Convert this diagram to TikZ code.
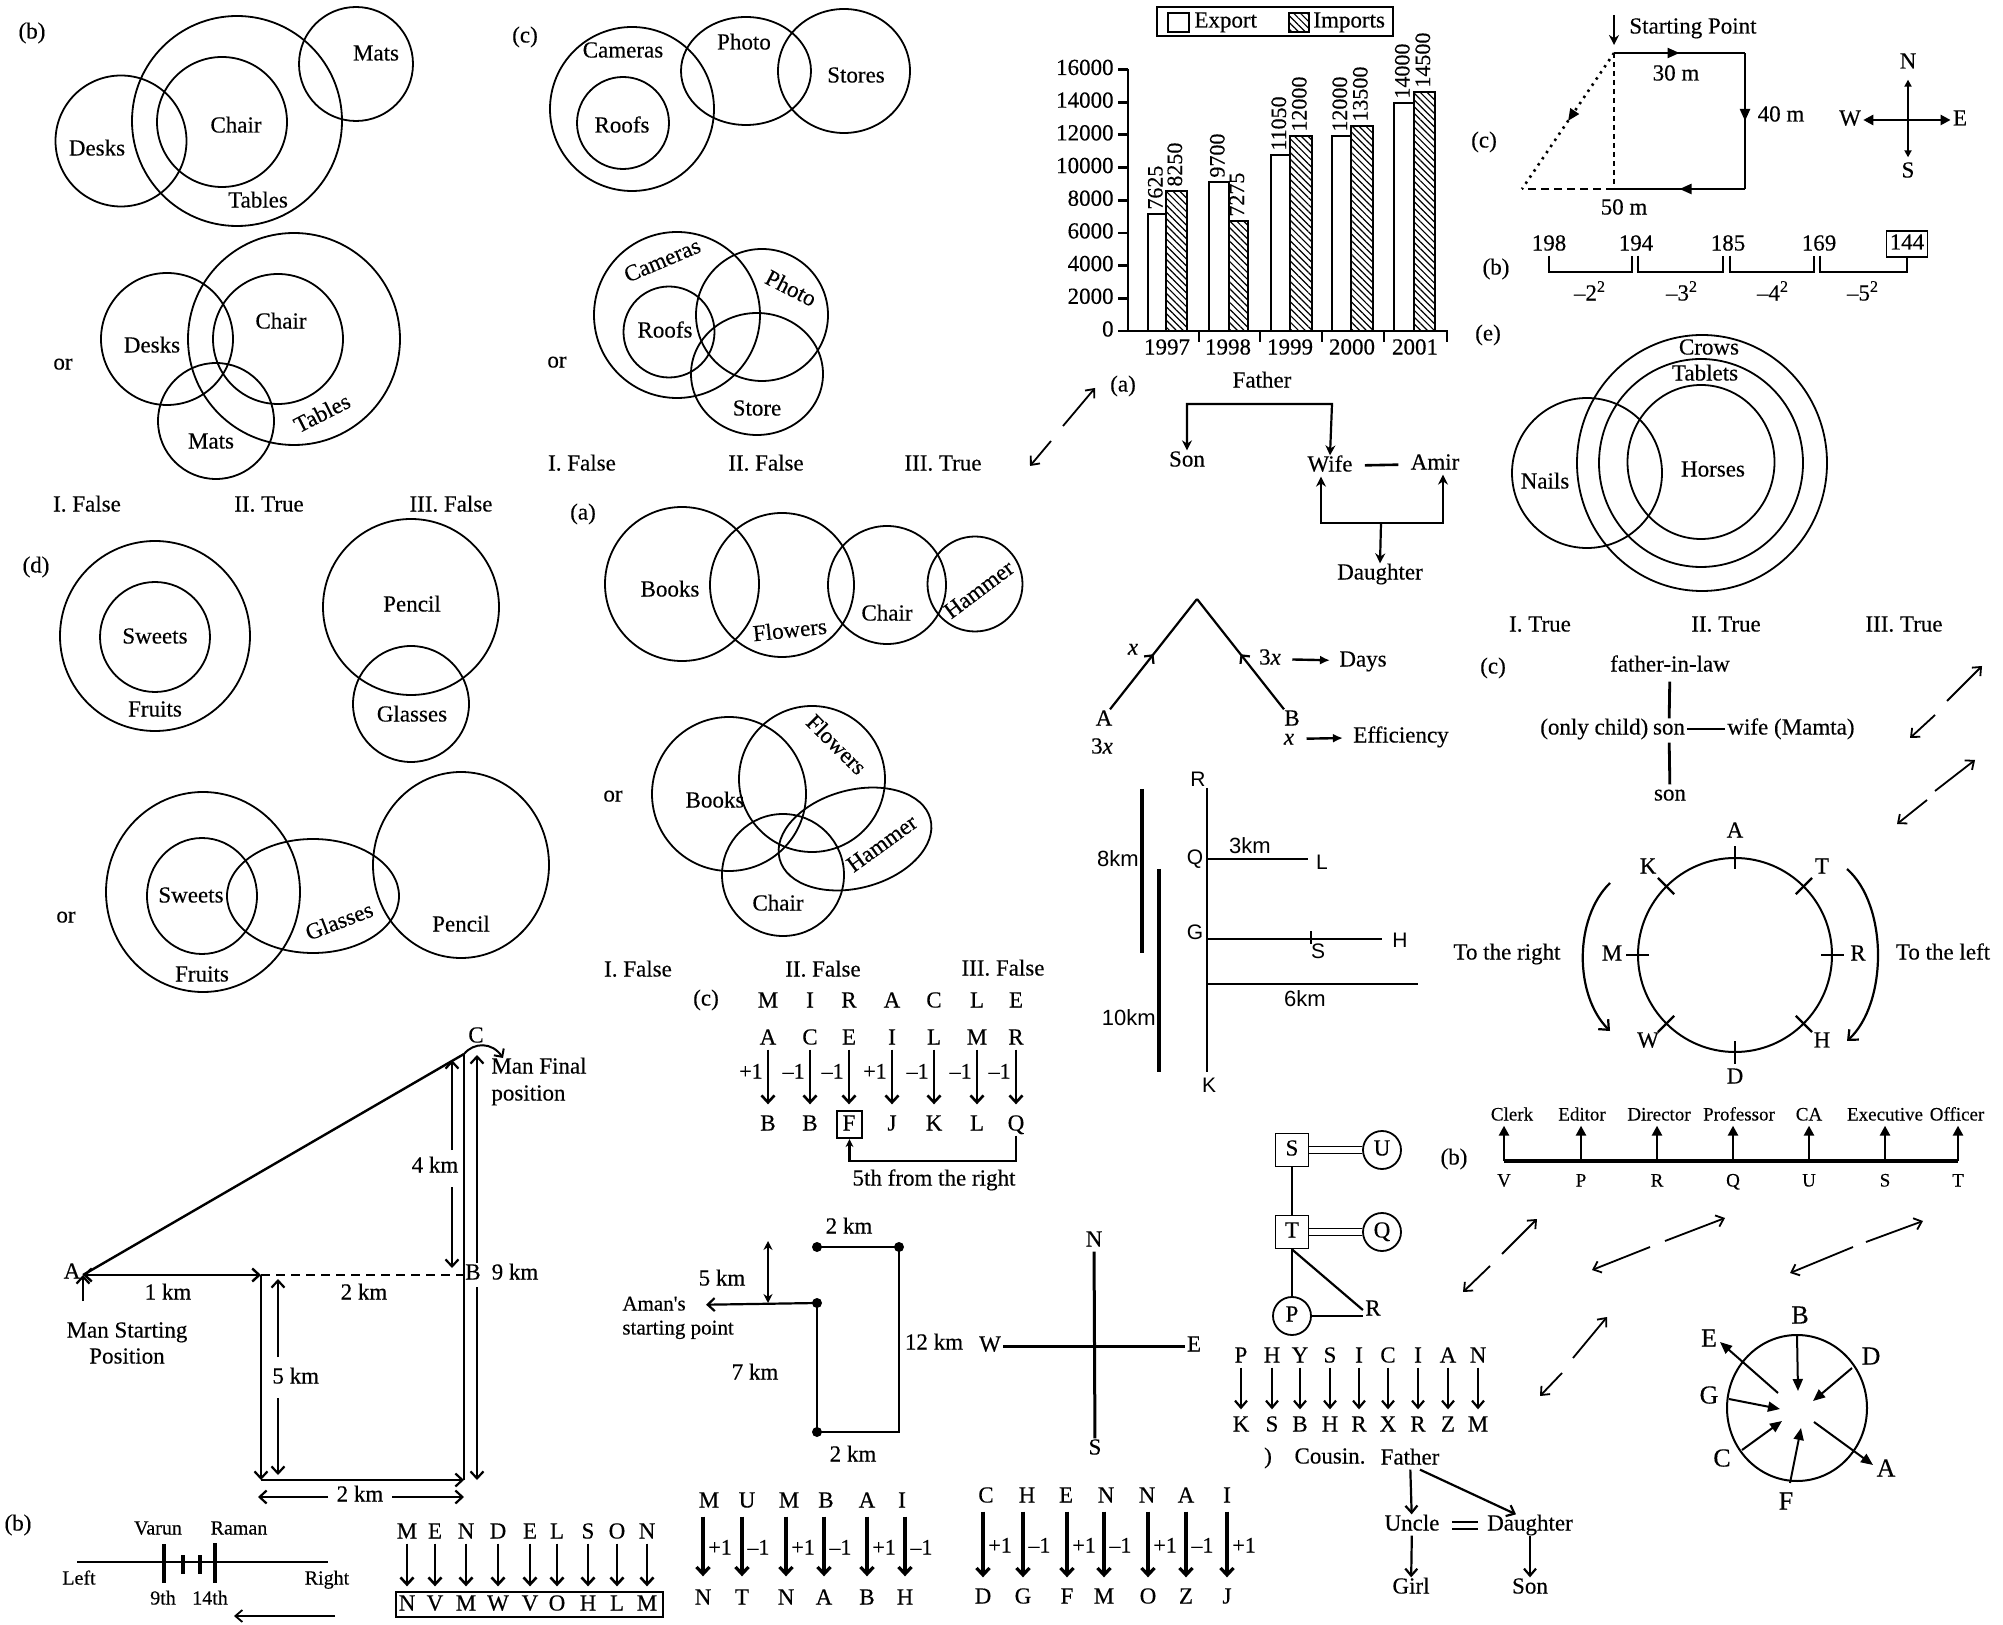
\documentclass[tikz,border=0pt]{standalone}
\usepackage{fontspec}
\setmainfont{Liberation Serif}[FakeBold=0.3]
\newfontfamily\roadsans{Liberation Sans}
\usepackage{tikz}
\usetikzlibrary{arrows.meta,positioning,calc,patterns.meta,decorations.markings}
\newcommand{\fsz}[1]{\fontsize{#1}{#1}\selectfont}

\begin{document}
\begin{tikzpicture}[x=0.5pt,y=-0.5pt,
  every node/.style={font=\fsz{11.5},inner sep=1pt,text height=1.5ex,text depth=.3ex},
  venn/.style={draw,line width=0.9pt},
  small/.style={font=\fsz{9.5}},
  varlbl/.style={font=\fsz{10}},
  road/.style={font=\roadsans\fsz{10.5}},
  roadkm/.style={font=\roadsans\fsz{11}},
  barval/.style={rotate=90,anchor=west,font=\fsz{11}},
  expbar/.style={draw,line width=1pt,fill=white},
  impbar/.style={draw,line width=1pt,pattern={Lines[angle=-45,distance=2.4pt,line width=0.6pt]}},
  axis/.style={line width=1.4pt},
  famarrow/.style={line width=1.1pt,-{Stealth[length=5pt,width=5pt]}},
  fam2/.style={line width=1.1pt,{Stealth[length=5pt,width=5pt]}-{Stealth[length=5pt,width=5pt]}},
  barb/.style={line width=0.9pt,-{Straight Barb[length=3.5pt,width=6pt]}},
  letarrow/.style={line width=1.3pt,-{Straight Barb[length=3.5pt,width=6.5pt]}},
  dimbarb/.style={line width=1.1pt,-{Straight Barb[length=3.5pt,width=6.5pt]}},
  filltip/.style={line width=1.4pt,-{Triangle[length=5pt,width=5pt]}},
  route/.style={line width=1.1pt},
  midarrow/.style={postaction={decorate},decoration={markings,mark=at position 0.5 with {\arrow{Triangle[length=6pt,width=5pt]}}}},
  midbarb/.style={postaction={decorate},decoration={markings,mark=at position 0.5 with {\arrow{Straight Barb[length=3pt,width=6pt]}}}},
]
  \path[use as bounding box,fill=white] (0,0) rectangle (2003,1625);

  \node (lb) at (32,33) {(b)};
  \draw[venn] (121,141) circle (65.5);
  \draw[venn] (237,121) circle (105);
  \draw[venn] (222,122) circle (65);
  \draw[venn] (356,64) circle (57);
  \node (mats1) at (376,55) {Mats};
  \node (chair1) at (236,127) {Chair};
  \node (desks1) at (97,150) {Desks};
  \node (tables1) at (258,202) {Tables};
  \node (or1) at (63,364) {or};
  \draw[venn] (294,339) circle (106);
  \draw[venn] (278,339) circle (65);
  \draw[venn] (167,339) circle (66);
  \draw[venn] (216,421) circle (58);
  \node (chair2) at (281,323) {Chair};
  \node (desks2) at (152,347) {Desks};
  \node (mats2) at (211,443) {Mats};
  \node[rotate=27] (tables2) at (323,415) {Tables};
  \node (vb1) at (87,506) {I. False};
  \node (vb2) at (269,506) {II. True};
  \node (vb3) at (451,506) {III. False};

  \node (lc) at (525,37) {(c)};
  \draw[venn] (632,109) circle (82);
  \draw[venn] (623,123) circle (46);
  \draw[venn] (746,71) ellipse (65 and 54);
  \draw[venn] (844,71) ellipse (66 and 62);
  \node (cam1) at (623,52) {Cameras};
  \node (photo1) at (744,44) {Photo};
  \node (stores1) at (856,77) {Stores};
  \node (roofs1) at (622,127) {Roofs};
  \draw[venn] (677,315) circle (83);
  \draw[venn] (669,332) circle (45.5);
  \draw[venn] (762,315) circle (66);
  \draw[venn] (757,374) ellipse (66 and 61);
  \node[rotate=23] (cam2) at (663,262) {Cameras};
  \node[rotate=-27] (photo2) at (790,290) {Photo};
  \node (roofs2) at (665,332) {Roofs};
  \node (store2) at (757,410) {Store};
  \node (or2) at (557,362) {or};
  \node (vc1) at (582,465) {I. False};
  \node (vc2) at (766,465) {II. False};
  \node (vc3) at (943,465) {III. True};

  \draw[line width=1.3pt] (1157,7) rectangle (1393,36);
  \draw[expbar] (1168,13) rectangle (1189,32);
  \node[anchor=west] (lgexp) at (1192,22) {Export};
  \draw[impbar] (1289,13) rectangle (1309,32);
  \node[anchor=west] (lgimp) at (1311,22) {Imports};
  \foreach \k in {0,...,8}{
    \pgfmathtruncatemacro\yv{2000*\k}
    \node[anchor=east] (yt\k) at (1116,331-32.69*\k) {\yv};
    \draw[axis] (1118,331-32.69*\k) -- (1128,331-32.69*\k);
  }
  \foreach \xa/\xb/\tp/\val/\st [count=\n] in {1148/1166/214/7625/expbar,1166/1187/191/8250/impbar,
      1209/1229/182/9700/expbar,1229/1248/221/7275/impbar,1271/1290/155/11050/expbar,
      1290/1312/136/12000/impbar,1332/1351/136/12000/expbar,1351/1373/126/13500/impbar,
      1394/1414/103/14000/expbar,1414/1435/92/14500/impbar}{
    \draw[\st] (\xa,331) rectangle (\xb,\tp);
    \node[barval] (bv\n) at ({(\xa+\xb)/2},\tp-2) {\val};
  }
  \draw[axis] (1128,69) -- (1128,331);
  \draw[axis] (1118,331) -- (1448,331);
  \foreach \xa/\yr [count=\n] in {1199/1997,1260/1998,1322/1999,1384/2000,1447/2001}{
    \draw[axis] (\xa,331) -- (\xa,342);
    \node (yr\n) at (\xa-32,349) {\yr};
  }

  \node (la2) at (1123,386) {(a)};
  \node (fa1) at (1262,382) {Father};
  \node (sn1) at (1187,461) {Son};
  \node (wf1) at (1330,466) {Wife};
  \node (amir) at (1435,464) {Amir};
  \node (dt1) at (1380,574) {Daughter};
  \coordinate (fbr) at (1332,404);
  \draw[fam2] (sn1.north) |- (fbr) -- (wf1.north);
  \draw[line width=1.3pt,shorten <=5pt,shorten >=5pt] (wf1) -- (amir);
  \coordinate (dbl) at (1321,523);
  \coordinate (dbr) at (1443,523);
  \coordinate (dbm) at (1381,523);
  \draw[fam2] (wf1.south -| dbl) -- (dbl) -- (dbr) -- (amir.south -| dbr);
  \draw[famarrow] (dbm) -- (dt1.north);

  \coordinate (sptop) at (1614,15);
  \coordinate (sp) at (1614,53);
  \coordinate (tr) at (1745,53);
  \coordinate (br) at (1745,189);
  \coordinate (bl) at (1614,189);
  \coordinate (far) at (1522,189);
  \node[anchor=west] (sptxt) at (1627,28) {Starting Point};
  \draw[line width=1.4pt,-{Stealth[length=5pt,width=5pt]},shorten >=4pt] (sptop) -- (sp);
  \draw[route,midarrow] (sp) -- (tr);
  \draw[route,midarrow] (tr) -- (br);
  \draw[route,midarrow] (br) -- (bl);
  \draw[line width=1.1pt,dash pattern=on 2.5pt off 2pt] (sp) -- (bl);
  \draw[line width=1.1pt,dash pattern=on 4pt off 2.5pt] (bl) -- (far);
  \draw[line width=1.3pt,dash pattern=on 1.2pt off 2.5pt,midarrow] (sp) -- (far);
  \node (m30) at (1676,75) {30 m};
  \node (m40) at (1781,116) {40 m};
  \node (m50) at (1624,209) {50 m};
  \node (lc2) at (1484,142) {(c)};
  \node (cn) at (1908,63) {N};
  \node (cs) at (1908,172) {S};
  \node (cw) at (1850,120) {W};
  \node (ce) at (1960,120) {E};
  \draw[line width=1.2pt,{Triangle[length=5pt,width=5pt]}-{Triangle[length=5pt,width=5pt]}] (cw) -- (ce);
  \draw[line width=1pt,{Triangle[length=3.5pt,width=3.5pt]}-{Triangle[length=3.5pt,width=3.5pt]},shorten <=3pt,shorten >=2pt] (cn) -- (cs);

  \node (lb2) at (1496,269) {(b)};
  \foreach \xa/\val [count=\n] in {1549/198,1636/194,1728/185,1819/169}{
    \node (sq\n) at (\xa,245) {\val};
  }
  \node[draw,line width=0.9pt,minimum width=20.5pt,minimum height=13pt] (sq5) at (1907,244) {144};
  \draw[line width=1.1pt] (sq1.south) -- ++(0,16) -| ([xshift=-2pt]sq2.south);
  \draw[line width=1.1pt] ([xshift=1pt]sq2.south) -- ++(0,16) -| ([xshift=-2.5pt]sq3.south);
  \draw[line width=1.1pt] ([xshift=1pt]sq3.south) -- ++(0,16) -| ([xshift=-2.5pt]sq4.south);
  \draw[line width=1.1pt] ([xshift=0.5pt]sq4.south) -- ++(0,16) -| (sq5.south);
  \node (pw1) at (1590,295) {\textendash2\textsuperscript{2}};
  \node (pw2) at (1682,295) {\textendash3\textsuperscript{2}};
  \node (pw3) at (1773,295) {\textendash4\textsuperscript{2}};
  \node (pw4) at (1863,295) {\textendash5\textsuperscript{2}};

  \node (le) at (1488,335) {(e)};
  \draw[venn] (1702,463) ellipse (125 and 128);
  \draw[venn] (1701,463) ellipse (102 and 104);
  \draw[venn] (1701,462) ellipse (73.5 and 77);
  \draw[venn] (1587,473) circle (75);
  \node (crows) at (1709,349) {Crows};
  \node (tablets) at (1705,375) {Tablets};
  \node (horses) at (1713,471) {Horses};
  \node (nails) at (1545,483) {Nails};
  \node (ve1) at (1540,626) {I. True};
  \node (ve2) at (1726,626) {II. True};
  \node (ve3) at (1904,626) {III. True};

  \node (ld) at (36,567) {(d)};
  \draw[venn] (155,636) circle (95);
  \draw[venn] (155,637) circle (55);
  \draw[venn] (411,607) circle (88);
  \draw[venn] (411,704) circle (58);
  \node (sweets1) at (155,638) {Sweets};
  \node (fruits1) at (155,711) {Fruits};
  \node (pencil1) at (412,606) {Pencil};
  \node (glasses1) at (412,716) {Glasses};
  \node (or3) at (66,917) {or};
  \draw[venn] (203,892) ellipse (97 and 100);
  \draw[venn] (202,896) ellipse (55 and 58);
  \draw[venn] (313,896) ellipse (86 and 57);
  \draw[venn] (461,865) ellipse (88 and 93);
  \node (sweets2) at (191,897) {Sweets};
  \node (fruits2) at (202,976) {Fruits};
  \node[rotate=21] (glasses2) at (340,923) {Glasses};
  \node (pencil2) at (461,926) {Pencil};

  \node (la) at (583,514) {(a)};
  \draw[venn] (682,584) circle (77);
  \draw[venn] (782,585) circle (72);
  \draw[venn] (887,585) circle (59);
  \draw[venn] (975,584) circle (47.5);
  \node (books1) at (670,591) {Books};
  \node[rotate=6] (flowers1) at (790,632) {Flowers};
  \node (chair3) at (887,615) {Chair};
  \node[rotate=37] (hammer1) at (980,591) {Hammer};
  \node (or4) at (613,796) {or};
  \draw[venn] (729,794) circle (77);
  \draw[venn] (812,779) circle (73);
  \draw[venn] (783,875) circle (61);
  \draw[venn,rotate around={15:(855,839)}] (855,839) ellipse (78 and 49);
  \node (books2) at (715,802) {Books};
  \node[rotate=-45] (flowers2) at (835,746) {Flowers};
  \node[rotate=36] (hammer2) at (883,845) {Hammer};
  \node (chair4) at (778,905) {Chair};
  \node (va1) at (638,971) {I. False};
  \node (va2) at (823,971) {II. False};
  \node (va3) at (1003,970) {III. False};

  \coordinate (apex) at (1197,599);
  \node (ta) at (1104,720) {A};
  \node (tb) at (1292,720) {B};
  \draw[line width=1.1pt,midbarb] ([xshift=3pt]ta.north) -- (apex);
  \draw[line width=1.1pt,midbarb] ([xshift=-4pt]tb.north) -- (apex);
  \node (tx1) at (1133,649) {\textit{x}};
  \node (t3x) at (1270,659) {3\textit{x}};
  \node (days) at (1363,661) {Days};
  \node (t3xb) at (1102,748) {3\textit{x}};
  \node (txb) at (1289,739) {\textit{x}};
  \node (eff) at (1401,737) {Efficiency};
  \draw[line width=1.2pt,-{Latex[length=5pt,width=4.5pt]},shorten <=4.5pt,shorten >=3.5pt] (t3x) -- (days);
  \draw[line width=1.2pt,-{Latex[length=5pt,width=4.5pt]},shorten <=5pt,shorten >=4pt] (txb) -- (eff);

  \node[road] (rR) at (1198,781) {R};
  \node[road] (rK) at (1209,1087) {K};
  \node[road] (rQ) at (1195,859) {Q};
  \node[road] (rL) at (1322,864) {L};
  \node[road] (rG) at (1195,934) {G};
  \node[road] (rS) at (1318,953) {S};
  \node[road] (rH) at (1400,942) {H};
  \coordinate (rtop) at (1207,788);
  \coordinate (rbot) at (1207,1072);
  \draw[line width=1.3pt] (rtop) -- (rbot);
  \draw[line width=1.2pt] (1207,859) -- (1308,859);
  \draw[line width=0.8pt] (1207,939) -- (1382,939);
  \draw[line width=0.8pt] (1311,931) -- (1311,944);
  \draw[line width=0.8pt] (1207,984) -- (1418,984);
  \draw[line width=1.8pt] (1142,789) -- (1142,953);
  \draw[line width=1.8pt] (1159,869) -- (1159,1072);
  \node[roadkm] (km3) at (1250,848) {3km};
  \node[roadkm] (km6) at (1305,1001) {6km};
  \node[roadkm,anchor=east] (km8) at (1141,861) {8km};
  \node[roadkm,anchor=east] (km10) at (1158,1020) {10km};

  \node (lc3) at (1493,668) {(c)};
  \node (fil) at (1670,666) {father-in-law};
  \node (son1) at (1669,729) {son};
  \node[anchor=east] (onlych) at (son1.west) {(only child)};
  \node[anchor=west] (wifem) at (1725,729) {wife (Mamta)};
  \node (son2) at (1670,795) {son};
  \draw[line width=1.4pt,shorten <=2.5pt] (fil) -- (son1);
  \draw[line width=1.4pt] (son1) -- (wifem);
  \draw[line width=1.4pt,shorten <=1.5pt] (son1) -- (son2);

  \coordinate (seat) at (1735,955);
  \draw[line width=1pt] (seat) circle (97);
  \foreach \ang/\lbl in {-90/A,-45/T,0/R,45/H,90/D,135/W,180/M,225/K}{
    \draw[line width=1.2pt] ($(seat)+(\ang:86)$) -- ($(seat)+(\ang:109)$);
    \node (st\lbl) at ($(seat)+(\ang:123)$) {\lbl};
  }
  \coordinate (lft1) at (1610,883);
  \coordinate (lft2) at (1610,1031);
  \coordinate (rgt1) at (1847,869);
  \coordinate (rgt2) at (1847,1041);
  \draw[line width=1.1pt,-{Straight Barb[length=4pt,width=7pt]}] (lft1) .. controls (1574,918) and (1574,995) .. (lft2);
  \draw[line width=1.1pt,-{Straight Barb[length=4pt,width=7pt]}] (rgt1) .. controls (1888,905) and (1888,1003) .. (rgt2);
  \node (tright) at (1507,954) {To the right};
  \node (tleft) at (1943,954) {To the left};

  \node (lc4) at (706,1000) {(c)};
  \foreach \xa/\topl/\midl/\lbl/\botl [count=\i] in {768/M/A/+1/B,810/I/C/\textendash1/B,849/R/E/\textendash1/F,
      892/A/I/+1/J,934/C/L/\textendash1/K,977/L/M/\textendash1/L,1016/E/R/\textendash1/Q}{
    \node (mr\i) at (\xa,1002) {\topl};
    \node (me\i) at (\xa,1039) {\midl};
    \node (mb\i) at (\xa,1125) {\botl};
    \draw[letarrow,shorten >=5pt] (me\i) -- (mb\i);
    \node[anchor=east,font=\fsz{11}] (mo\i) at (\xa-3,1073) {\lbl};
  }
  \node[draw,line width=1.1pt,minimum width=12.5pt,minimum height=13.5pt] (fbox) at (849.5,1124.5) {};
  \draw[line width=1.2pt,-{Stealth[length=4pt,width=4pt]}] (mb7.south) -- (1016,1161) -- (849.5,1161) -- (fbox.south);
  \node (fifth) at (934,1180) {5th from the right};

  \coordinate (mA) at (83,1275);
  \coordinate (mC) at (464,1054);
  \coordinate (mB) at (464,1275);
  \coordinate (mD) at (261,1275);
  \coordinate (mE) at (261,1480);
  \coordinate (mF) at (464,1480);
  \draw[line width=1.2pt] (mA) -- (mC);
  \draw[line width=1.2pt,{Straight Barb[length=3.5pt,width=6.5pt]}-{Straight Barb[length=3.5pt,width=6.5pt]}] (mA) -- (mD);
  \draw[line width=1.2pt,dash pattern=on 4.5pt off 3pt] (mD) -- (mB);
  \draw[dimbarb] (mD) -- (mE);
  \draw[dimbarb] (mE) -- (mF);
  \draw[line width=1.2pt] (mF) -- (mC);
  \draw[line width=1pt,-{Straight Barb[length=3pt,width=6pt]}] (mC) .. controls (474,1042) and (492,1042) .. (503,1058);
  \node (mlA) at (72,1273) {A};
  \node (mlC) at (476,1037) {C};
  \node (mlB) at (473,1274) {B};
  \node (km9) at (515,1274) {9 km};
  \draw[dimbarb] (278,1357) -- (278,1279);
  \draw[dimbarb] (278,1398) -- (278,1475);
  \node[anchor=west] (km5) at (270,1378) {5 km};
  \draw[dimbarb] (452,1150) -- (452,1060);
  \draw[dimbarb] (452,1187) -- (452,1268);
  \node (km4) at (435,1167) {4 km};
  \draw[dimbarb] (477,1263) -- (477,1055);
  \draw[dimbarb] (477,1287) -- (477,1480);
  \draw[dimbarb] (328,1497) -- (258,1497);
  \draw[dimbarb] (392,1497) -- (464,1497);
  \node (km2b) at (360,1496) {2 km};
  \node (km1) at (168,1294) {1 km};
  \node (km2a) at (364,1294) {2 km};
  \node (mstart1) at (127,1332) {Man Starting};
  \node (mstart2) at (127,1358) {Position};
  \draw[dimbarb] (83,1301) -- (mA);
  \node[anchor=west] (mfinal1) at (489,1068) {Man Final};
  \node[anchor=west] (mfinal2) at (489,1095) {position};

  \coordinate (amr1) at (817,1247);
  \coordinate (amr2) at (899,1247);
  \coordinate (amr3) at (899,1432);
  \coordinate (amr4) at (817,1432);
  \coordinate (amr5) at (817,1303);
  \coordinate (amr6) at (768,1241);
  \coordinate (amr7) at (768,1303);
  \draw[route] (amr1) -- (amr2) -- (amr3) -- (amr4) -- (amr5);
  \foreach \p in {amr1,amr2,amr4,amr5} \fill (\p) circle (5);
  \node[anchor=west,font=\fsz{10.5}] (amn1) at (620,1305) {Aman\textquotesingle s};
  \node[anchor=west,font=\fsz{10.5}] (amn2) at (620,1329) {starting point};
  \draw[line width=1.1pt,-{Straight Barb[length=3.5pt,width=6.5pt]},shorten >=9pt] (amr5) -- (amn1.east);
  \draw[line width=1.1pt,{Stealth[length=4.5pt,width=4.5pt]}-{Stealth[length=4.5pt,width=4.5pt]}] (amr6) -- (amr7);
  \node (ak2a) at (849,1228) {2 km};
  \node (ak5) at (722,1280) {5 km};
  \node (ak12) at (934,1344) {12 km};
  \node (ak7) at (755,1374) {7 km};
  \node (ak2b) at (853,1456) {2 km};

  \node (n2) at (1094,1241) {N};
  \node (s2) at (1095,1449) {S};
  \node (w2) at (990,1346) {W};
  \node (e2) at (1194,1346) {E};
  \draw[line width=1.5pt] (n2) -- (s2);
  \draw[line width=1.5pt] (w2) -- (e2);

  \node[draw,line width=0.9pt,minimum size=16.5pt] (ts) at (1292,1150) {S};
  \node[draw,line width=0.9pt,minimum size=16.5pt] (tt) at (1292,1232) {T};
  \node[draw,circle,line width=0.9pt,minimum size=19pt] (tu) at (1382,1150) {U};
  \node[draw,circle,line width=0.9pt,minimum size=19pt] (tq) at (1382,1232) {Q};
  \node[draw,circle,line width=0.9pt,minimum size=19pt] (tp) at (1292,1316) {P};
  \node (trr) at (1373,1310) {R};
  \draw[double,double distance=2.8pt,line width=0.8pt] (ts) -- (tu);
  \draw[double,double distance=2.8pt,line width=0.8pt] (tt) -- (tq);
  \draw[line width=1.1pt] (ts) -- (tt);
  \draw[line width=1.1pt] (tt) -- (tp);
  \draw[line width=1.1pt] (tt.south) -- (trr.west);
  \draw[line width=1.1pt] (tp.east) -- (tp.east -| trr.west);

  \foreach \xa/\topl/\botl [count=\i] in {1241/P/K,1272/H/S,1300/Y/B,1330/S/H,1359/I/R,1388/C/X,1418/I/R,1448/A/Z,1478/N/M}{
    \node (ph\i) at (\xa,1357) {\topl};
    \node (pk\i) at (\xa,1426) {\botl};
    \draw[barb,line width=1.1pt,shorten >=3pt] (ph\i) -- (pk\i);
  }
  \node (cpar) at (1268,1458) {)};
  \node (cous) at (1330,1458) {Cousin.};
  \node (fath2) at (1410,1459) {Father};
  \node (uncle) at (1412,1525) {Uncle};
  \node (daut2) at (1530,1525) {Daughter};
  \node (girl) at (1411,1588) {Girl};
  \node (son3) at (1530,1588) {Son};
  \draw[barb,line width=1.1pt] (fath2) -- (uncle);
  \draw[barb,line width=1.1pt] ([xshift=5pt]fath2.south) -- ([xshift=-7pt]daut2.north);
  \draw[double,double distance=2.5pt,line width=1pt,shorten <=5pt,shorten >=3.5pt] (uncle) -- (daut2);
  \draw[barb,line width=1.1pt] (uncle) -- (girl);
  \draw[barb,line width=1.1pt] (daut2) -- (son3);

  \node (lb3) at (1454,1159) {(b)};
  \draw[line width=1.6pt] (1504,1161) -- (1958,1161);
  \foreach \xa/\xl/\role/\ltr [count=\i] in {1504/1512/Clerk/V,1581/1582/Editor/P,1657/1659/Director/R,1733/1739/Professor/Q,
      1809/1809/CA/U,1885/1885/Executive/S,1958/1957/Officer/T}{
    \coordinate (jb\i) at (\xa,1161);
    \node[small] (job\i) at (\xl,1115) {\role};
    \node[small] (jl\i) at (\xa,1181) {\ltr};
    \draw[filltip] (jb\i) -- (jb\i |- job\i.south);
  }

  \draw[line width=1pt] (1797,1408) ellipse (70 and 73);
  \foreach \lbl/\lx/\ly/\fx/\fy/\tx/\ty in {B/1800/1318/1797/1335/1798/1391,D/1871/1359/1852/1368/1813/1401,
      G/1709/1398/1729/1399/1780/1409,C/1722/1461/1742/1450/1782/1421,F/1786/1504/1790/1483/1801/1428,
      E/1709/1341/1778/1393/1720/1342,A/1886/1471/1814/1422/1873/1465}{
    \node[font=\fsz{13}] (ca\lbl) at (\lx,\ly) {\lbl};
    \draw[line width=1pt,-{Triangle[length=6pt,width=5pt]}] (\fx,\fy) -- (\tx,\ty);
  }

  \foreach \ax/\ay/\bx/\by/\cx/\cy/\dx/\dy in {1030/466/1051/441/1063/426/1095/388,1910/738/1935/715/1947/701/1982/666,
      1897/824/1927/800/1935/791/1975/760,1463/1292/1490/1266/1502/1254/1537/1219,1592/1270/1650/1247/1665/1241/1725/1218,
      1790/1273/1853/1247/1866/1242/1923/1221,1540/1396/1562/1373/1573/1358/1607/1317}{
    \draw[barb] (\bx,\by) -- (\ax,\ay);
    \draw[barb] (\cx,\cy) -- (\dx,\dy);
  }

  \node (lb4) at (18,1525) {(b)};
  \draw[line width=1.2pt] (77,1562) -- (328,1562);
  \draw[line width=2.2pt] (164,1544) -- (164,1583);
  \draw[line width=2pt] (183,1555) -- (183,1574);
  \draw[line width=2pt] (200,1555) -- (200,1574);
  \draw[line width=2.2pt] (215,1543) -- (215,1583);
  \node[varlbl] (varun) at (158,1529) {Varun};
  \node[varlbl] (raman) at (239,1529) {Raman};
  \node[varlbl] (leftl) at (79,1579) {Left};
  \node[varlbl] (rightl) at (327,1579) {Right};
  \node[varlbl] (ninth) at (163,1599) {9th};
  \node[varlbl] (fourt) at (210,1599) {14th};
  \coordinate (vr1) at (335,1616);
  \coordinate (vr2) at (234,1616);
  \draw[barb] (vr1) -- (vr2);

  \foreach \xa/\topl/\botl [count=\i] in {407/M/N,435/E/V,466/N/M,498/D/W,530/E/V,557/L/O,588/S/H,617/O/L,647/N/M}{
    \node (md\i) at (\xa,1533) {\topl};
    \node (mv\i) at (\xa,1605) {\botl};
    \draw[letarrow,shorten >=4pt] (md\i) -- (mv\i);
  }
  \draw[line width=1.1pt] (396,1592) rectangle (663,1617);

  \foreach \xt/\topl/\xa/\lbl/\botl [count=\i] in {709/M/703/+1/N,747/U/742/\textendash1/T,789/M/786/+1/N,
      826/B/824/\textendash1/A,867/A/867/+1/B,902/I/905/\textendash1/H}{
    \node (mu\i) at (\xt,1502) {\topl};
    \node (mn\i) at (\xa,1599) {\botl};
    \draw[letarrow,line width=1.6pt,shorten <=2pt,shorten >=6pt] (mu\i.south -| mn\i.north) -- (mn\i.north);
    \node[anchor=west,font=\fsz{11}] (ml\i) at (\xa+3,1549) {\lbl};
  }

  \foreach \xt/\topl/\xa/\lbl/\botl [count=\i] in {986/C/983/+1/D,1027/H/1023/\textendash1/G,1066/E/1067/+1/F,
      1106/N/1104/\textendash1/M,1147/N/1148/+1/O,1186/A/1186/\textendash1/Z,1227/I/1227/+1/J}{
    \node (ch\i) at (\xt,1497) {\topl};
    \node (cd\i) at (\xa,1598) {\botl};
    \draw[letarrow,line width=1.6pt,shorten <=2pt,shorten >=5pt] (ch\i.south -| cd\i.north) -- (cd\i.north);
    \node[anchor=west,font=\fsz{11}] (cl\i) at (\xa+3,1547) {\lbl};
  }
\end{tikzpicture}
\end{document}
